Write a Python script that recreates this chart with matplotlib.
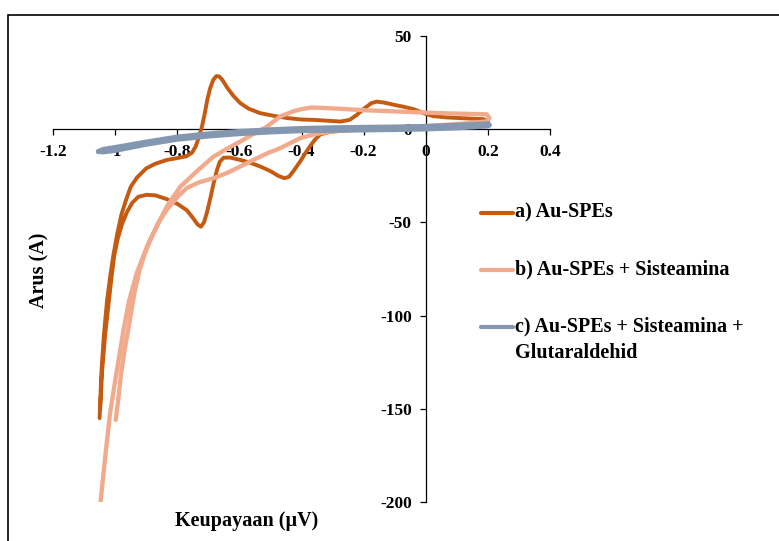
#!/usr/bin/env python3
"""
Cyclic voltammogram of the three Au-SPE electrode modifications
"""

import matplotlib
matplotlib.use('Agg')
import matplotlib.pyplot as plt
from matplotlib.lines import Line2D
from matplotlib.patches import Rectangle

# a) Au-SPEs : anodic sweep (left -> right) then cathodic sweep (right -> left)
a_x = [-1.050, -1.044, -1.036, -1.026, -1.015, -1.005, -0.993, -0.980, -0.965, -0.950,
       -0.930, -0.900, -0.870, -0.834, -0.800, -0.770, -0.752, -0.740, -0.730, -0.721,
       -0.712, -0.703, -0.694, -0.684, -0.674, -0.665, -0.655, -0.640, -0.620, -0.597,
       -0.570, -0.533, -0.490, -0.447, -0.400, -0.361, -0.320, -0.275, -0.245, -0.222,
       -0.195, -0.175, -0.158, -0.135, -0.100, -0.070, -0.040, 0.000, 0.024, 0.068,
       0.130, 0.185, 0.200,
       0.200, 0.150, 0.080, 0.000, -0.100, -0.200, -0.270, -0.310, -0.340, -0.356,
       -0.372, -0.390, -0.405, -0.426, -0.440, -0.455, -0.475, -0.500, -0.533, -0.565,
       -0.597, -0.630, -0.651, -0.663, -0.672, -0.683, -0.694, -0.705, -0.714, -0.724,
       -0.735, -0.750, -0.769, -0.800, -0.834, -0.870, -0.898, -0.925, -0.945, -0.962,
       -0.978, -0.992, -1.003, -1.012, -1.022, -1.032, -1.042, -1.048]
a_y = [-155.0, -130.0, -110.0, -92.0, -78.0, -67.0, -56.0, -46.0, -38.0, -31.0,
       -26.0, -21.0, -18.5, -16.5, -15.5, -14.5, -12.5, -9.0, -4.0, 1.0,
       8.0, 16.0, 22.0, 26.5, 28.5, 28.3, 26.5, 22.5, 18.0, 14.0,
       11.0, 8.6, 7.2, 6.0, 5.2, 5.0, 4.6, 4.1, 5.0, 7.7,
       11.5, 14.0, 14.8, 14.3, 13.0, 12.0, 10.8, 8.2, 7.0, 6.3,
       5.8, 5.4, 4.5,
       3.0, 2.2, 1.5, 0.8, 0.2, -0.2, -0.8, -1.5, -2.8, -5.5,
       -9.0, -13.5, -17.5, -22.5, -25.5, -26.3, -25.0, -22.5, -20.0, -18.0,
       -16.5, -15.2, -15.3, -17.5, -21.8, -29.0, -37.5, -45.0, -50.0, -52.3,
       -51.0, -47.5, -43.5, -40.0, -37.5, -35.5, -35.2, -36.2, -39.5, -44.5,
       -51.0, -59.0, -68.0, -80.0, -95.0, -110.0, -130.0, -150.0]

# b) Au-SPEs + Sisteamina
b_x = [-0.998, -0.990, -0.980, -0.968, -0.952, -0.938, -0.922, -0.905, -0.887, -0.860,
       -0.834, -0.800, -0.769, -0.730, -0.683, -0.640, -0.597, -0.555, -0.511, -0.469,
       -0.426, -0.404, -0.370, -0.340, -0.300, -0.254, -0.150, -0.050, 0.050, 0.150,
       0.195, 0.205, 0.196, 0.120, 0.050, -0.060, -0.200, -0.280, -0.340, -0.370,
       -0.404, -0.426, -0.469, -0.511, -0.555, -0.597, -0.640, -0.683, -0.730, -0.790,
       -0.830, -0.860, -0.895, -0.930, -0.955, -0.973, -0.995, -1.016, -1.032, -1.048]
b_y = [-156.0, -145.0, -130.0, -117.0, -102.0, -88.0, -76.0, -67.0, -59.5, -50.0,
       -43.3, -36.5, -31.5, -28.5, -26.3, -23.5, -20.0, -16.5, -13.0, -10.2,
       -6.6, -4.8, -3.2, -2.2, -1.2, -0.4, 0.5, 1.3, 2.2, 3.4,
       4.2, 6.0, 8.0, 8.3, 8.6, 9.3, 10.2, 11.0, 11.5, 11.6,
       10.6, 9.6, 6.8, 1.4, -2.6, -6.6, -10.5, -14.7, -21.5, -30.8,
       -40.5, -50.0, -62.0, -77.0, -92.0, -107.7, -130.0, -152.0, -176.0, -201.6]

# c) Au-SPEs + Sisteamina + Glutaraldehid (thin closed loop)
c_x = [-1.054, -1.040, -1.000, -0.900, -0.800, -0.700, -0.600, -0.500, -0.400, -0.300,
       -0.200, -0.100, 0.000, 0.100, 0.200, 0.205, 0.200, 0.100, 0.000, -0.100,
       -0.200, -0.300, -0.400, -0.500, -0.600, -0.700, -0.800, -0.900, -1.000, -1.040,
       -1.054]
c_y = [-12.0, -10.9, -9.8, -6.9, -4.2, -2.5, -1.2, -0.3, 0.4, 0.8,
       1.0, 1.2, 1.5, 2.1, 2.9, 2.3, 1.7, 0.7, 0.1, -0.2,
       -0.4, -0.6, -0.8, -1.5, -2.4, -3.7, -5.4, -8.1, -11.4, -12.2,
       -12.0]

x_ticks = [-1.2, -1.0, -0.8, -0.6, -0.4, -0.2, 0.0, 0.2, 0.4]
x_tick_labels = ['-1.2', '-1', '-0.8', '-0.6', '-0.4', '-0.2', '0', '0.2', '0.4']
y_ticks = [-200, -150, -100, -50, 0, 50]
y_tick_labels = ['-200', '-150', '-100', '-50', '0', '50']

series_labels = ['a) Au-SPEs',
                 'b) Au-SPEs + Sisteamina',
                 'c) Au-SPEs + Sisteamina +\nGlutaraldehid']
colors = ['#C55A11', '#F2AA8C', '#8497B0']

W, H = 779, 541


def px_x(p):
    return p / W


def px_y(p):
    return 1 - p / H


def plot_cv(output_file='out.png'):
    plt.rcParams['font.family'] = ['Liberation Serif', 'DejaVu Serif']
    plt.rcParams['font.weight'] = 'bold'

    fig = plt.figure(figsize=(W / 100, H / 100), dpi=100)
    ax = fig.add_axes([px_x(53), px_y(502), px_x(550) - px_x(53), px_y(36) - px_y(502)])

    ax.plot(a_x, a_y, color=colors[0], linewidth=2.8, zorder=3,
            solid_joinstyle='round', solid_capstyle='round')
    ax.plot(b_x, b_y, color=colors[1], linewidth=3.1, zorder=4,
            solid_joinstyle='round', solid_capstyle='round')
    ax.plot(c_x, c_y, color=colors[2], linewidth=3.6, zorder=5,
            solid_joinstyle='round', solid_capstyle='round')

    ax.set_xlim(-1.2, 0.4)
    ax.set_ylim(-200, 50)

    ax.spines['left'].set_position(('data', 0))
    ax.spines['bottom'].set_position(('data', 0))
    ax.spines['top'].set_visible(False)
    ax.spines['right'].set_visible(False)
    for s in ('left', 'bottom'):
        ax.spines[s].set_linewidth(0.9)
        ax.spines[s].set_zorder(2)

    ax.set_xticks(x_ticks)
    ax.set_xticklabels(x_tick_labels, fontsize=12.5, fontweight='bold')
    ax.set_yticks(y_ticks)
    ax.set_yticklabels(y_tick_labels, fontsize=12.5, fontweight='bold')
    ax.tick_params(axis='x', direction='out', length=4, width=0.9, pad=7)
    ax.tick_params(axis='y', direction='out', length=4, width=0.9, pad=6)
    ax.patch.set_visible(False)

    ax.set_xlabel('Keupayaan (µV)', fontsize=14.5, fontweight='bold', va='center')
    ax.xaxis.set_label_coords((246.7 - 53) / 497, (502 - 521) / 466)
    ax.set_ylabel('Arus (A)', fontsize=14.5, fontweight='bold', va='center')
    ax.yaxis.set_label_coords((39 - 53) / 497, (502 - 270) / 466)

    # legend, Excel style: handle sits on the first text line
    entry_y = [213, 270, 327]
    for color, label, y in zip(colors, series_labels, entry_y):
        fig.add_artist(Line2D([px_x(481), px_x(513)], [px_y(y), px_y(y)],
                              transform=fig.transFigure, color=color,
                              linewidth=3.0, solid_capstyle='round'))
        fig.text(px_x(515), px_y(y - 10.5), label, fontsize=14.5, fontweight='bold',
                 ha='left', va='top', linespacing=1.4)

    # chart area border
    fig.add_artist(Rectangle((px_x(8), -0.2), 1.2, px_y(15) + 0.2,
                             transform=fig.transFigure, fill=False,
                             edgecolor='black', linewidth=1.2))

    plt.savefig(output_file, dpi=100)
    plt.close()


if __name__ == "__main__":
    plot_cv('out.png')
